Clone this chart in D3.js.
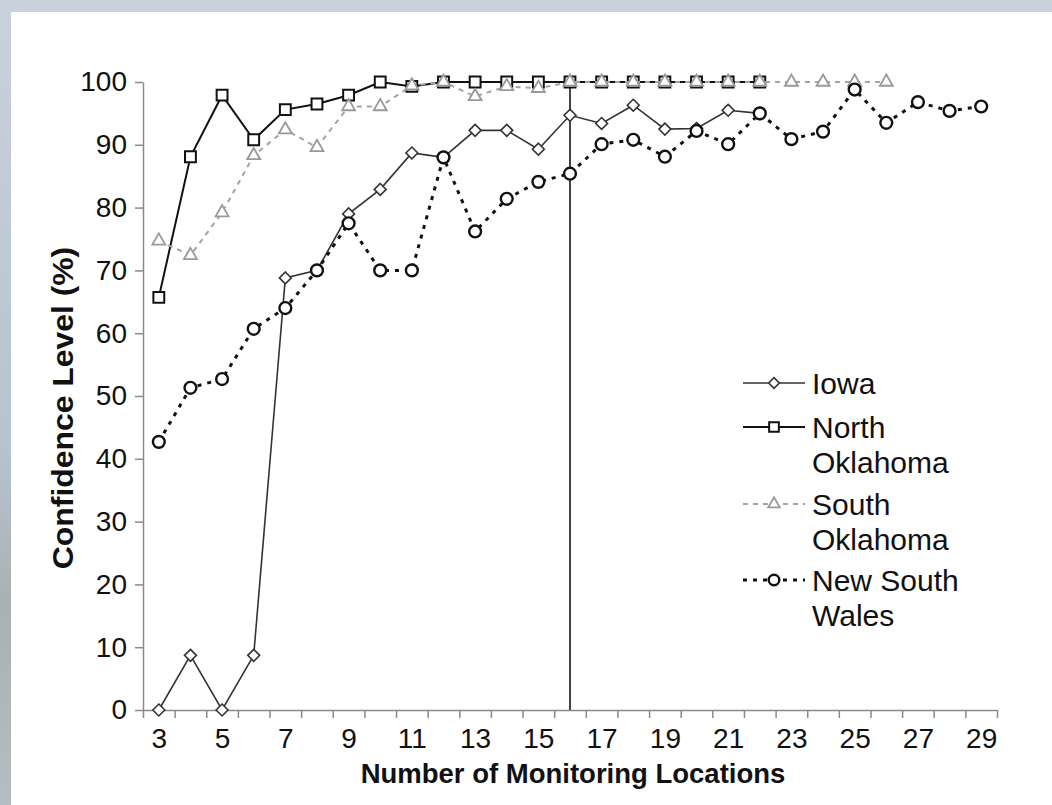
<!DOCTYPE html>
<html>
<head>
<meta charset="utf-8">
<script src="https://cdn.jsdelivr.net/npm/d3@7"></script>
<style>
  html, body { margin: 0; padding: 0; background: #fff; }
  svg { display: block; font-family: "Liberation Sans", Arial, sans-serif; }
</style>
</head>
<body>
<svg id="chart" width="1052" height="805"></svg>
<script>
// Number of monitoring locations (category axis)
const locations = [3, 4, 5, 6, 7, 8, 9, 10, 11, 12, 13, 14, 15, 16, 17, 18, 19, 20, 21, 22, 23, 24, 25, 26, 27, 28, 29];
const xTickLabels = [3, 5, 7, 9, 11, 13, 15, 17, 19, 21, 23, 25, 27, 29];
const yTickLabels = [0, 10, 20, 30, 40, 50, 60, 70, 80, 90, 100];

// confidence level (%), values start at 3 locations
const iowa = [0, 8.7, 0, 8.7, 68.8, 70, 79, 82.9, 88.7, 88, 92.3, 92.3, 89.3, 94.7, 93.4, 96.3, 92.5, 92.6, 95.5, 95];
const northOklahoma = [65.7, 88.1, 97.9, 90.8, 95.6, 96.5, 97.9, 100, 99.3, 100, 100, 100, 100, 100, 100, 100, 100, 100, 100, 100];
const southOklahoma = [74.7, 72.4, 79.2, 88.3, 92.4, 89.6, 96.1, 96.1, 99.4, 100, 97.7, 99.3, 99, 100, 100, 100, 100, 100, 100, 100, 100, 100, 100, 100];
const newSouthWales = [42.7, 51.3, 52.7, 60.7, 64, 70, 77.5, 70, 70, 88, 76.2, 81.4, 84.1, 85.4, 90.1, 90.8, 88.1, 92.2, 90.1, 95, 90.9, 92.1, 98.8, 93.5, 96.8, 95.4, 96.1];
const markerLine = 16;

const series = [
  { name: ["Iowa"], values: iowa, symbol: d3.symbolDiamond2, size: 90, stroke: "#333", width: 1.6, dash: null, mstroke: "#333", mwidth: 1.6 },
  { name: ["North", "Oklahoma"], values: northOklahoma, symbol: d3.symbolSquare2, size: 150, stroke: "#111", width: 2, dash: null, mstroke: "#111", mwidth: 2 },
  { name: ["South", "Oklahoma"], values: southOklahoma, symbol: d3.symbolTriangle2, size: 120, stroke: "#a3a3a3", width: 2, dash: "5,5", mstroke: "#999", mwidth: 1.8 },
  { name: ["New South", "Wales"], values: newSouthWales, symbol: d3.symbolCircle, size: 110, stroke: "#111", width: 3, dash: "4,6", mstroke: "#111", mwidth: 2.4 }
];

const svg = d3.select("#chart");
const W = 1052, H = 805;

// photo-like backdrop around the white panel
const defs = svg.append("defs");
const bg = defs.append("linearGradient").attr("id", "bg").attr("x1", 0).attr("y1", 0).attr("x2", 0).attr("y2", 1);
bg.append("stop").attr("offset", "0%").attr("stop-color", "#c9d1dd");
bg.append("stop").attr("offset", "55%").attr("stop-color", "#b8c3d0");
bg.append("stop").attr("offset", "75%").attr("stop-color", "#a9b1b2");
bg.append("stop").attr("offset", "100%").attr("stop-color", "#b6bdc2");
svg.append("rect").attr("width", W).attr("height", H).attr("fill", "url(#bg)");
svg.append("rect").attr("x", 11).attr("y", 12).attr("width", W - 11).attr("height", H - 12).attr("fill", "#fff");

const x = d3.scaleLinear().domain([2.5, 29.5]).range([143, 997]);
const y = d3.scaleLinear().domain([0, 100]).range([710, 82]);

// y axis
const yAxis = svg.append("g")
  .attr("transform", `translate(${x(2.5)},0)`)
  .call(d3.axisLeft(y).tickValues(yTickLabels).tickSize(8).tickPadding(8).tickSizeOuter(0));
yAxis.selectAll("text").attr("font-size", 28).attr("font-family", "Liberation Sans, Arial, sans-serif").attr("fill", "#111");

// x axis: tick marks between categories, labels on odd categories
const boundaries = locations.map(d => d - 0.5).concat([29.5]);
const xAxis = svg.append("g")
  .attr("transform", `translate(0,${y(0)})`)
  .call(d3.axisBottom(x).tickValues(boundaries).tickSize(8).tickFormat("").tickSizeOuter(0));
const xLabels = svg.append("g")
  .attr("transform", `translate(0,${y(0)})`)
  .call(d3.axisBottom(x).tickValues(xTickLabels).tickSize(0).tickPadding(18));
xLabels.select(".domain").remove();
xLabels.selectAll("text").attr("font-size", 28).attr("font-family", "Liberation Sans, Arial, sans-serif").attr("fill", "#111");

[yAxis, xAxis].forEach(g => {
  g.selectAll("line").attr("stroke", "#8a8a8a").attr("stroke-width", 1.5);
  g.select(".domain").attr("stroke", "#8a8a8a").attr("stroke-width", 1.5);
});

// axis titles
svg.append("text")
  .attr("x", 573)
  .attr("y", 783)
  .attr("text-anchor", "middle")
  .attr("font-weight", "bold")
  .attr("font-size", 27.5)
  .attr("fill", "#111")
  .text("Number of Monitoring Locations");

svg.append("text")
  .attr("transform", `translate(73,408) rotate(-90) scale(1.1,1)`)
  .attr("text-anchor", "middle")
  .attr("font-weight", "bold")
  .attr("font-size", 29)
  .attr("fill", "#111")
  .text("Confidence Level (%)");

// reference line at 16 locations
svg.append("line")
  .attr("x1", x(markerLine)).attr("x2", x(markerLine))
  .attr("y1", y(100)).attr("y2", y(0))
  .attr("stroke", "#444").attr("stroke-width", 2);

// series
series.forEach(s => {
  const pts = s.values.map((v, i) => ({ loc: locations[i], v }));
  const line = d3.line().x(d => x(d.loc)).y(d => y(d.v));
  svg.append("path")
    .datum(pts)
    .attr("fill", "none")
    .attr("stroke", s.stroke)
    .attr("stroke-width", s.width)
    .attr("stroke-dasharray", s.dash)
    .attr("d", line);
  svg.append("g").selectAll("path")
    .data(pts)
    .join("path")
    .attr("transform", d => `translate(${x(d.loc)},${y(d.v)})`)
    .attr("d", d3.symbol(s.symbol, s.size))
    .attr("fill", "#fff")
    .attr("stroke", s.mstroke)
    .attr("stroke-width", s.mwidth);
});

// legend
const legendRows = [383, 427, 504, 580];
const legend = svg.append("g");
series.forEach((s, i) => {
  const ly = legendRows[i];
  legend.append("line")
    .attr("x1", 743).attr("x2", 805)
    .attr("y1", ly).attr("y2", ly)
    .attr("stroke", s.stroke)
    .attr("stroke-width", s.width)
    .attr("stroke-dasharray", s.dash);
  legend.append("path")
    .attr("transform", `translate(774,${ly})`)
    .attr("d", d3.symbol(s.symbol, s.size * 0.8))
    .attr("fill", "#fff")
    .attr("stroke", s.mstroke)
    .attr("stroke-width", s.mwidth);
  s.name.forEach((t, j) => {
    legend.append("text")
      .attr("x", 812)
      .attr("y", ly + 11 + j * 35)
      .attr("font-size", 30)
      .attr("fill", "#111")
      .text(t);
  });
});
</script>
</body>
</html>
